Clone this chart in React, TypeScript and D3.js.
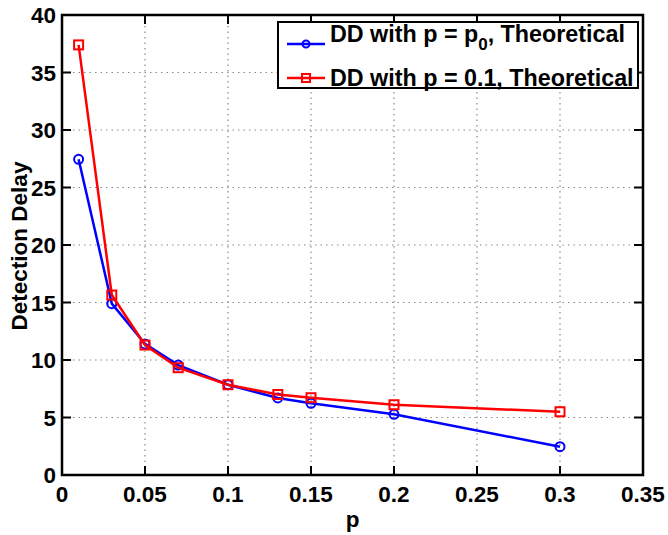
import React from "react";
import * as d3 from "d3";

const pValues = [0.01, 0.03, 0.05, 0.07, 0.1, 0.13, 0.15, 0.2, 0.3];
const blueSeries = [27.45, 14.9, 11.4, 9.56, 7.85, 6.7, 6.23, 5.28, 2.46];
const redSeries = [37.4, 15.65, 11.3, 9.33, 7.85, 7.0, 6.72, 6.11, 5.5];
const xTicks = [0, 0.05, 0.1, 0.15, 0.2, 0.25, 0.3, 0.35];
const yTicks = [0, 5, 10, 15, 20, 25, 30, 35, 40];
const xTickLabels = ["0", "0.05", "0.1", "0.15", "0.2", "0.25", "0.3", "0.35"];

const W = 668, H = 535;
const L = 62, R = 643, T = 15, B = 475;
const FONT = "'Liberation Sans', Arial, Helvetica, sans-serif";

export default function App() {
  const x = d3.scaleLinear().domain([0, 0.35]).range([L, R]);
  const y = d3.scaleLinear().domain([0, 40]).range([B, T]);
  const line = d3.line<number>().x((_, i) => x(pValues[i])).y((d) => y(d));
  const tk = 9;
  return (
    <svg width={W} height={H} style={{ position: "absolute", left: 0, top: 0, background: "#fff" }} fontFamily={FONT}>
      <rect x={0} y={0} width={W} height={H} fill="#fff" />
      {xTicks.slice(1, -1).map((t) => (
        <line key={"gx" + t} x1={x(t)} x2={x(t)} y1={T} y2={B} stroke="#8a8a8a" strokeWidth={1.2} strokeDasharray="1.5,4" />
      ))}
      {yTicks.slice(1, -1).map((t) => (
        <line key={"gy" + t} x1={L} x2={R} y1={y(t)} y2={y(t)} stroke="#8a8a8a" strokeWidth={1.2} strokeDasharray="1.5,4" />
      ))}
      {xTicks.map((t) => (
        <g key={"tx" + t}>
          <line x1={x(t)} x2={x(t)} y1={B} y2={B - tk} stroke="#000" strokeWidth={2} />
          <line x1={x(t)} x2={x(t)} y1={T} y2={T + tk} stroke="#000" strokeWidth={2} />
        </g>
      ))}
      {yTicks.map((t) => (
        <g key={"ty" + t}>
          <line x1={L} x2={L + tk} y1={y(t)} y2={y(t)} stroke="#000" strokeWidth={2} />
          <line x1={R} x2={R - tk} y1={y(t)} y2={y(t)} stroke="#000" strokeWidth={2} />
        </g>
      ))}
      <rect x={L} y={T} width={R - L} height={B - T} fill="none" stroke="#000" strokeWidth={2.5} />
      {xTicks.map((t, i) => (
        <text key={"lx" + t} x={x(t)} y={502} textAnchor="middle" fontSize={22.5} fontWeight="bold">{xTickLabels[i]}</text>
      ))}
      {yTicks.map((t) => (
        <text key={"ly" + t} x={L - 6} y={y(t) + 8} textAnchor="end" fontSize={22.5} fontWeight="bold">{t}</text>
      ))}
      <text x={(L + R) / 2} y={527} textAnchor="middle" fontSize={22.5} fontWeight="bold">p</text>
      <text transform={`translate(27,${(T + B) / 2 + 1}) rotate(-90)`} textAnchor="middle" fontSize={22.5} fontWeight="bold">Detection Delay</text>
      <path d={line(blueSeries) || ""} fill="none" stroke="#0000ff" strokeWidth={2.5} />
      {blueSeries.map((v, i) => (
        <circle key={"b" + i} cx={x(pValues[i])} cy={y(v)} r={4.5} fill="none" stroke="#0000ff" strokeWidth={2} />
      ))}
      <path d={line(redSeries) || ""} fill="none" stroke="#ff0000" strokeWidth={2.5} />
      {redSeries.map((v, i) => (
        <rect key={"r" + i} x={x(pValues[i]) - 4.5} y={y(v) - 4.5} width={9} height={9} fill="none" stroke="#ff0000" strokeWidth={2} />
      ))}
      <rect x={278} y={22} width={360} height={66} fill="#fff" stroke="#000" strokeWidth={2} />
      <line x1={287} x2={325} y1={44} y2={44} stroke="#0000ff" strokeWidth={2.5} />
      <circle cx={306} cy={44} r={3.5} fill="none" stroke="#0000ff" strokeWidth={2} />
      <text x={330} y={42} fontSize={23.3} fontWeight="bold">DD with p = p<tspan fontSize={17} dy={8}>0</tspan><tspan dy={-8}>, Theoretical</tspan></text>
      <line x1={287} x2={325} y1={78} y2={78} stroke="#ff0000" strokeWidth={2.5} />
      <rect x={302} y={74} width={8} height={8} fill="none" stroke="#ff0000" strokeWidth={2} />
      <text x={330} y={86} fontSize={23.3} fontWeight="bold">DD with p = 0.1, Theoretical</text>
    </svg>
  );
}
